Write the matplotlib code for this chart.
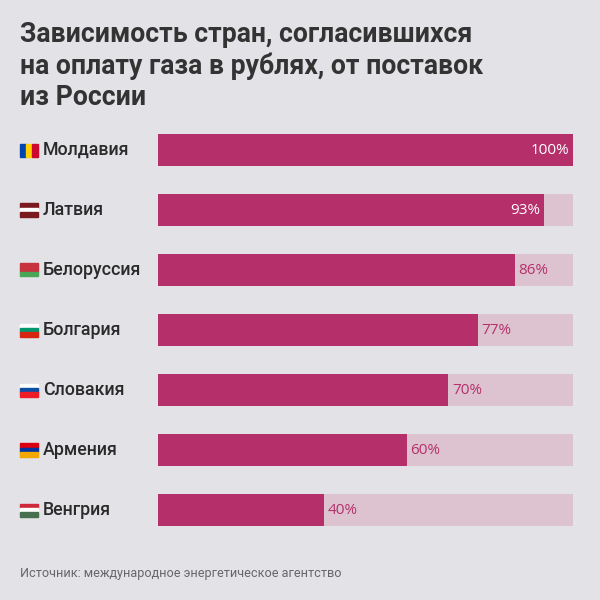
import matplotlib
matplotlib.use("Agg")
import matplotlib.pyplot as plt
from matplotlib.patches import Rectangle

countries = ["Молдавия", "Латвия", "Белоруссия", "Болгария", "Словакия", "Армения", "Венгрия"]
values = [100, 93, 86, 77, 70, 60, 40]
flags = [
    ["#0046ae", "#ffd200", "#cc092f"],
    ["#7a1a1f", "#ffffff", "#7a1a1f"],
    ["#c8313e", "#c8313e", "#4aa657"],
    ["#ffffff", "#00966e", "#d62612"],
    ["#ffffff", "#0b4ea2", "#ee1c25"],
    ["#d90012", "#0033a0", "#f2a800"],
    ["#ce2939", "#ffffff", "#477050"],
]
flag_vertical = [True, False, False, False, False, False, False]

bg = "#e2e2e7"
bar_c = "#b5306b"
track_c = "#dcc3cf"

fig = plt.figure(figsize=(6, 6), dpi=100, facecolor=bg)
fig.text(0.033, 0.965, "Зависимость стран, согласившихся\nна оплату газа в рублях, от поставок\nиз России",
         fontsize=19.2, fontweight="bold", color="#333333", va="top", ha="left",
         family="Roboto", linespacing=1.2)

ax = fig.add_axes([0.263, 0.1, 0.692, 0.7])
ax.set_facecolor(bg)
ax.set_xlim(0, 100)
ax.set_ylim(6.5, -0.5)
ax.axis("off")
y = list(range(len(countries)))
ax.barh(y, [100] * len(y), height=0.53, color=track_c)
ax.barh(y, values, height=0.53, color=bar_c)
for i, v in enumerate(values):
    if v >= 90:
        ax.text(v - 0.8, i, f"{v}%", color="white", ha="right", va="center", fontsize=11, family="Open Sans")
    else:
        ax.text(v + 0.8, i, f"{v}%", color=bar_c, ha="left", va="center", fontsize=11, family="Open Sans")

for i, (c, f, vert) in enumerate(zip(countries, flags, flag_vertical)):
    yc = 1 - (150 + 60 * i) / 600
    fig.text(43 / 600, yc, c, fontsize=12.8, fontweight="medium", color="#2a2a2a", va="center", ha="left", family="Roboto")
    x0, w, h = 20 / 600, 18 / 600, 13 / 600
    for k, col in enumerate(f):
        if vert:
            fig.patches.append(Rectangle((x0 + k * w / 3, yc - h / 2), w / 3, h, color=col,
                                         transform=fig.transFigure, figure=fig))
        else:
            fig.patches.append(Rectangle((x0, yc + h / 2 - (k + 1) * h / 3), w, h / 3, color=col,
                                         transform=fig.transFigure, figure=fig))

fig.text(20 / 600, 1 - 573 / 600, "Источник: международное энергетическое агентство",
         fontsize=9.1, color="#666666", va="center", ha="left", family="Roboto")

fig.savefig("out.png", dpi=100, facecolor=bg)
